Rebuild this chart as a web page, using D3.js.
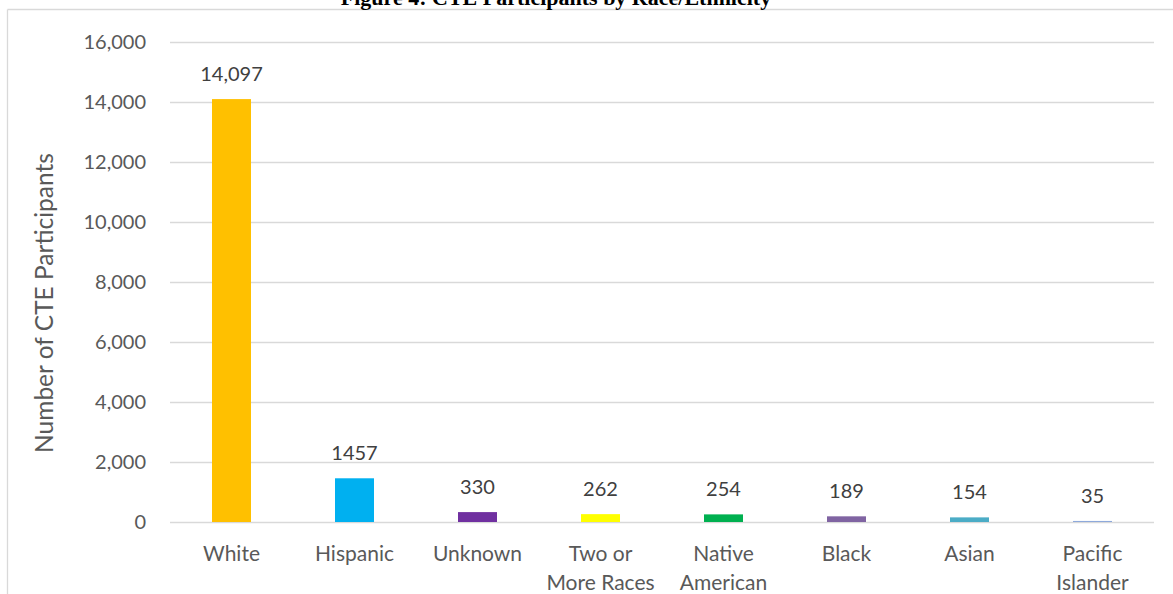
<!DOCTYPE html>
<html><head><meta charset="utf-8">
<script src="https://cdn.jsdelivr.net/npm/d3@7"></script>
<style>body{margin:0;background:#fff;}svg{display:block;}</style>
</head><body>
<svg id="chart" width="1173" height="594"></svg>
<script>
const categories = [["White"],["Hispanic"],["Unknown"],["Two or","More Races"],["Native","American"],["Black"],["Asian"],["Pacific","Islander"]];
const values = [14097,1457,330,262,254,189,154,35];
const valueLabels = ["14,097","1457","330","262","254","189","154","35"];
const colors = ["#FFC000","#00B0F0","#7030A0","#FFFF00","#00B050","#8064A2","#4BACC6","#8EA9DB"];
const yTicks = [0,2000,4000,6000,8000,10000,12000,14000,16000];
const title = "Figure 4: CTE Participants by Race/Ethnicity";
const yTitle = "Number of CTE Participants";

(function(){
const svg = d3.select("#chart");
const font = "Lato, 'Open Sans', sans-serif";
const grey = "#595959";
const pl = 170, pr = 1154, pt = 42, pb = 522;

// frame
svg.append("line").attr("x1",7.5).attr("x2",1173).attr("y1",9.5).attr("y2",9.5).attr("stroke","#d9d9d9").attr("stroke-width",1.3);
svg.append("line").attr("x1",7.5).attr("x2",7.5).attr("y1",9.5).attr("y2",594).attr("stroke","#d9d9d9").attr("stroke-width",1.3);

// title (clipped at the top edge, as in the source)
svg.append("text").attr("x",556).attr("y",5).attr("text-anchor","middle")
  .attr("font-family","'Liberation Serif', 'Times New Roman', serif").attr("font-weight","bold")
  .attr("font-size",22).attr("fill","#000").text(title);

const x = d3.scaleBand().domain(d3.range(categories.length)).range([pl,pr]).paddingInner(0.683).paddingOuter(0.3415);
const y = d3.scaleLinear().domain([0,16000]).range([pb,pt]);

// gridlines
const yAxis = d3.axisLeft(y).tickValues(yTicks).tickSize(-(pr-pl)).tickFormat(d3.format(","));
const g = svg.append("g").attr("transform",`translate(${pl},0)`).call(yAxis);
g.select(".domain").remove();
g.selectAll(".tick line").attr("stroke","#d9d9d9").attr("stroke-width",1.5);
g.selectAll(".tick text").attr("x",-24).attr("font-family",font).attr("font-size",20).attr("fill",grey);

// bars
svg.selectAll("rect.bar").data(values).join("rect").attr("class","bar")
  .attr("x",(d,i)=>x(i)).attr("width",x.bandwidth())
  .attr("y",d=>y(d)).attr("height",d=>y(0)-y(d))
  .attr("fill",(d,i)=>colors[i]);

// value labels
svg.selectAll("text.val").data(values).join("text").attr("class","val")
  .attr("x",(d,i)=>x(i)+x.bandwidth()/2).attr("y",d=>y(d)-18)
  .attr("text-anchor","middle").attr("font-family",font).attr("font-size",20).attr("fill","#404040")
  .text((d,i)=>valueLabels[i]);

// category labels
const cl = svg.selectAll("text.cat").data(categories).join("text").attr("class","cat")
  .attr("text-anchor","middle").attr("font-family",font).attr("font-size",21).attr("fill",grey);
cl.each(function(lines,i){
  const t = d3.select(this);
  lines.forEach((ln,j)=>{
    t.append("tspan").attr("x",x(i)+x.bandwidth()/2).attr("y",561+j*29).text(ln);
  });
});

// y title
svg.append("text").attr("transform","translate(53,303) rotate(-90)").attr("text-anchor","middle")
  .attr("font-family",font).attr("font-size",24.5).attr("fill",grey).text(yTitle);
})();
</script>
</body></html>
